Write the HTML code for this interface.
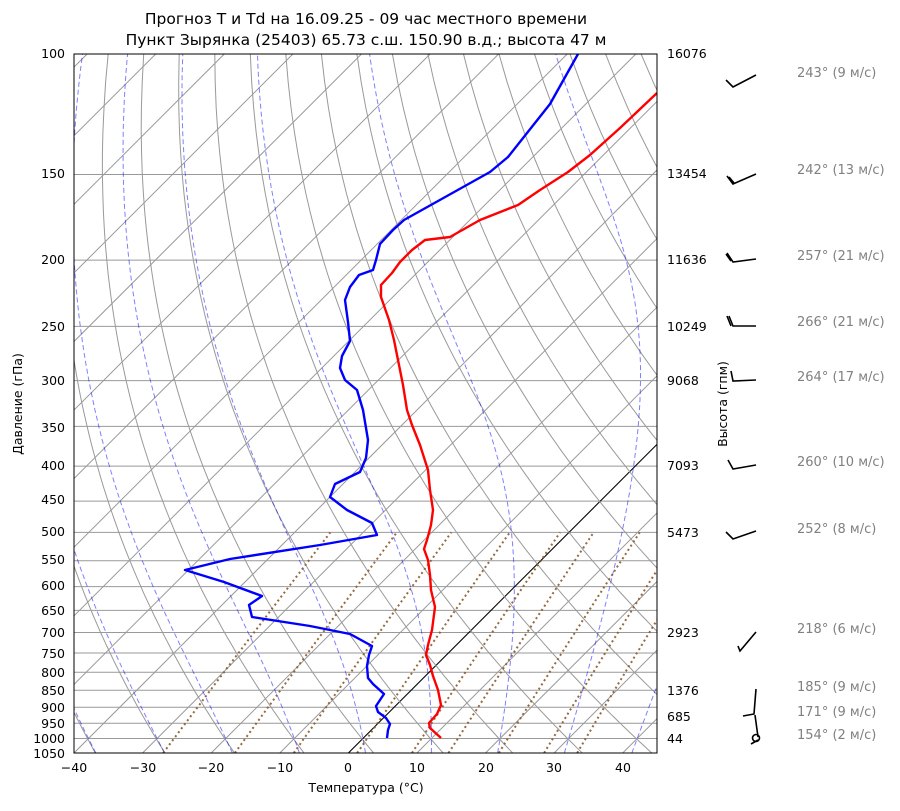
<!DOCTYPE html>
<html><head><meta charset="utf-8"><style>
body{margin:0;background:#fff;width:900px;height:806px;overflow:hidden;font-family:"Liberation Sans","DejaVu Sans",sans-serif}
svg text{font-family:"DejaVu Sans","Liberation Sans",sans-serif}
</style></head><body>
<svg id="s" width="900" height="806" viewBox="0 0 900 806" xmlns="http://www.w3.org/2000/svg">
<defs><clipPath id="c"><rect x="74" y="54" width="583" height="699"/></clipPath></defs>
<rect width="900" height="806" fill="#fff"/>
<g id="grid" clip-path="url(#c)"></g>
<g clip-path="url(#c)" fill="none" stroke-width="2.4" stroke-linejoin="round">
<polyline stroke="#ff0000" points="441,738 430,728 429,723 437,714 441,705 438,690 433,676 430,665 426,655 428,645 432,630 435,607 431,590 430,575 428,560 424,549 427,540 431,525 433,510 430,490 428,470 420,445 412,425 407,410 403,385 398,360 394,340 389,320 381,297 381,285 392,273 400,262 412,250 425,240 450,237 480,220 518,205 540,190 568,172 590,155 620,128 657,93"/>
<polyline stroke="#0000ff" points="387,738 388,730 390,724 386,718 378,712 376,706 380,700 384,694 373,684 368,678 367,666 369,655 372,646 350,634 310,626 252,617 249,605 262,596 224,582 185,570 230,559 320,545 377,535 372,523 347,510 330,497 335,484 360,472 366,458 368,440 363,410 357,390 345,380 340,368 342,356 350,341 348,322 345,300 350,287 359,275 373,270 376,260 380,244 393,230 404,220 490,172 508,157 550,104 578,54"/>
</g>
<rect x="74" y="54" width="583" height="699" fill="none" stroke="#000" stroke-width="1"/>
<g font-size="12.5" fill="#000" text-anchor="end">
<text x="65" y="58">100</text><text x="65" y="178">150</text><text x="65" y="264">200</text><text x="65" y="331">250</text><text x="65" y="385">300</text><text x="65" y="432">350</text><text x="65" y="470">400</text><text x="65" y="504">450</text><text x="65" y="536">500</text><text x="65" y="564">550</text><text x="65" y="590">600</text><text x="65" y="615">650</text><text x="65" y="637">700</text><text x="65" y="658">750</text><text x="65" y="677">800</text><text x="65" y="695">850</text><text x="65" y="712">900</text><text x="65" y="728">950</text><text x="65" y="743">1000</text><text x="65" y="758">1050</text>
</g>
<g font-size="12.5" text-anchor="middle">
<text x="74" y="772">−40</text><text x="143" y="772">−30</text><text x="211" y="772">−20</text><text x="280" y="772">−10</text><text x="348" y="772">0</text><text x="417" y="772">10</text><text x="486" y="772">20</text><text x="554" y="772">30</text><text x="623" y="772">40</text>
<text x="366" y="792">Температура (°C)</text>
<text x="366" y="24" font-size="15.5">Прогноз T и Td на 16.09.25 - 09 час местного времени</text>
<text x="366" y="45" font-size="15.5">Пункт Зырянка (25403) 65.73 с.ш. 150.90 в.д.; высота 47 м</text>
</g>
<text transform="translate(22,404) rotate(-90)" font-size="12.5" text-anchor="middle">Давление (гПа)</text>
<text transform="translate(727,404) rotate(-90)" font-size="12.5" text-anchor="middle">Высота (гпм)</text>
<g font-size="12.5">
<text x="667" y="58">16076</text><text x="667" y="178">13454</text><text x="667" y="264">11636</text><text x="667" y="331">10249</text><text x="667" y="385">9068</text><text x="667" y="470">7093</text><text x="667" y="537">5473</text><text x="667" y="637">2923</text><text x="667" y="695">1376</text><text x="667" y="721">685</text><text x="667" y="743">44</text>
</g>
<g font-size="13" fill="#808080">
<text x="797" y="77">243° (9 м/с)</text><text x="797" y="174">242° (13 м/с)</text><text x="797" y="260">257° (21 м/с)</text><text x="797" y="326">266° (21 м/с)</text><text x="797" y="381">264° (17 м/с)</text><text x="797" y="466">260° (10 м/с)</text><text x="797" y="533">252° (8 м/с)</text><text x="797" y="633">218° (6 м/с)</text><text x="797" y="691">185° (9 м/с)</text><text x="797" y="716">171° (9 м/с)</text><text x="797" y="739">154° (2 м/с)</text>
</g>
<g stroke="#000" stroke-width="1.6" fill="none">
<polyline points="756,75 733,87 726,80"/>
<polyline points="756,174 733,184 727,176"/><line x1="734" y1="183" x2="729" y2="177"/>
<polyline points="756,259 733,262 727,253"/><line x1="731" y1="261" x2="726" y2="254"/>
<polyline points="756,326 733,326 729,316"/><line x1="731" y1="326" x2="727" y2="316"/>
<polyline points="756,380 733,381 731,371"/>
<polyline points="756,465 733,469 728,460"/>
<polyline points="756,531 733,539 726,532"/>
<polyline points="756,632 740,651 738,646"/>
<polyline points="756,689 754,714 743,716"/>
<line x1="755" y1="715" x2="758" y2="737"/><circle cx="756" cy="738" r="3.5"/><line x1="751" y1="744" x2="758" y2="740"/>
</g>
<script>
(function(){
var g=document.getElementById('grid'),NS='http://www.w3.org/2000/svg';
var L0=Math.log(100),L1=Math.log(1050);
function Y(p){return 54+(Math.log(p)-L0)/(L1-L0)*699;}
function X(T,p){return 74+(T+40)*6.859+(753-Y(p));}
function add(pts,st,w,da,op){var e=document.createElementNS(NS,'polyline');e.setAttribute('points',pts.map(function(a){return a[0].toFixed(1)+','+a[1].toFixed(1)}).join(' '));e.setAttribute('fill','none');e.setAttribute('stroke',st);e.setAttribute('stroke-width',w);if(da)e.setAttribute('stroke-dasharray',da);if(op)e.setAttribute('stroke-opacity',op);g.appendChild(e);}
var ps=[100,150,200,250,300,350,400,450,500,550,600,650,700,750,800,850,900,950,1000,1050];
ps.forEach(function(p){add([[74,Y(p)],[657,Y(p)]],'#999',1);});
for(var T=-140;T<=40;T+=10){if(T==0)continue;add([[X(T,1050),Y(1050)],[X(T,100),Y(100)]],'#999',1);}
add([[X(0,1050),Y(1050)],[X(0,100),Y(100)]],'#000',1.1);
for(var th=233;th<=483;th+=10){var a=[];for(var p=1050;p>=100;p-=10){a.push([X(th*Math.pow(p/1000,0.2857)-273.15,p),Y(p)]);}add(a,'#999',1);}
function es(T){return 6.112*Math.exp(17.67*T/(T+243.5));}
function dTdp(T,p){var Tk=T+273.15,e=es(T),rs=0.622*e/(p-e),Lv=2.501e6,Rd=287.04,Cp=1005.7;return (Rd*Tk+Lv*rs)/(p*(Cp+Lv*Lv*rs*0.622/(Rd*Tk*Tk)));}
[-50,-40,-30,-20,-10,0,10,20,30,40].forEach(function(t0){
var up=[],T=t0,p;for(p=1000;p>=100;p-=2){up.push([X(T,p),Y(p)]);T-=dTdp(T,p)*2;}
var dn=[];T=t0;for(p=1000;p<=1050;p+=2){dn.push([X(T,p),Y(p)]);T+=dTdp(T,p)*2;}
add(dn.reverse().concat(up),'#0000ff',1,'5,3','0.5');});
[0.0004,0.001,0.002,0.004,0.007,0.01,0.016,0.024,0.032].forEach(function(w){var a=[];for(var p=1050;p>=500;p-=10){var e=p*w/(0.622+w),l=Math.log(e/6.112),Td=243.5*l/(17.67-l);a.push([X(Td,p),Y(p)]);}add(a,'#8b5a2b',2,'2,3',0.9);});
})();
</script>
</svg>
</body></html>
